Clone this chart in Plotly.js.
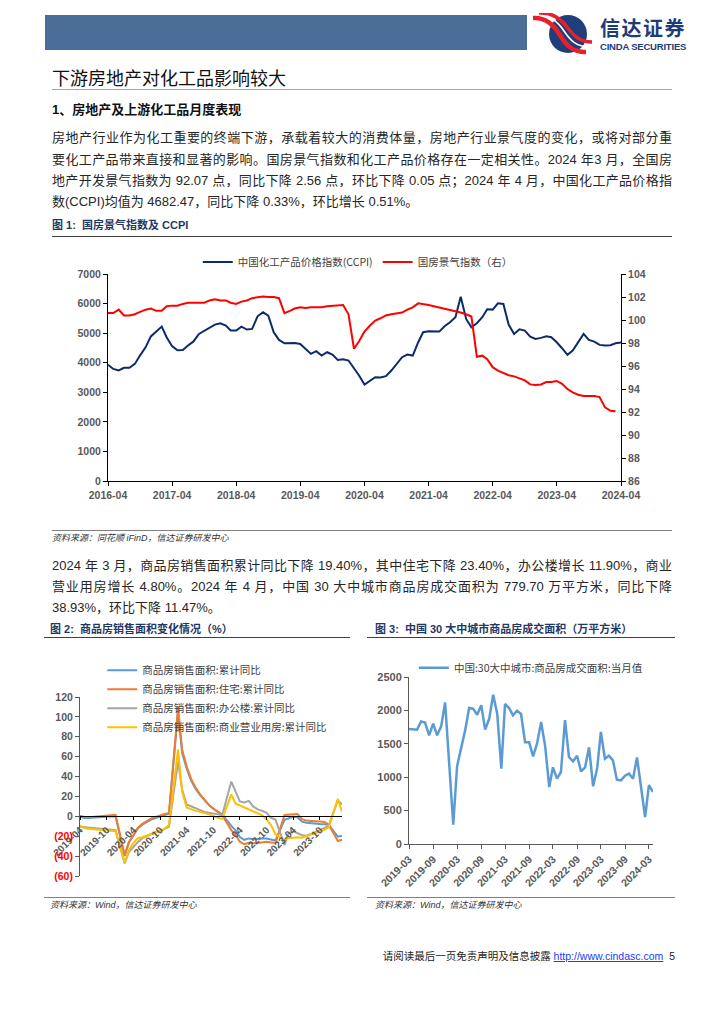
<!DOCTYPE html>
<html><head><meta charset="utf-8">
<script src="https://cdn.plot.ly/plotly-3.0.1.min.js"></script>
<style>
body{margin:0;background:#fff;}
#page{position:relative;width:724px;height:1024px;overflow:hidden;font-family:"Liberation Sans","Noto Sans CJK SC",sans-serif;color:#222;}
.abs{position:absolute;}
.ln{position:absolute;left:52px;width:620px;font-size:13px;line-height:20px;text-align:justify;text-align-last:justify;white-space:nowrap;color:#262626;}
.ln.last{text-align-last:left;}
.fig{position:absolute;font-size:11px;font-weight:bold;color:#1f3864;line-height:14px;}
.rule{position:absolute;height:0;border-top:1.5px solid #404040;}
.thin{position:absolute;height:0;border-top:1px solid #808080;}
.src{position:absolute;font-size:9px;font-style:italic;color:#333;line-height:12px;}
</style></head>
<body><div id="page">
<div class="abs" style="left:45px;top:15px;width:482px;height:35px;background:#4b6e98;"></div>
<svg class="abs" style="left:530px;top:13px" width="68" height="42" viewBox="0 0 68 42">
 <circle cx="38" cy="21" r="19" fill="#1f3f7a"/>
 <path d="M3,5 C16,4 24,12 30,22 S42,39 56,39" fill="none" stroke="#e8202a" stroke-width="4.5"/>
 <path d="M6,2 C20,1 28,9 34,18 S46,34 60,34" fill="none" stroke="#ffffff" stroke-width="1.6"/>
 <path d="M9,0 C23,-1 31,6 37,14 S49,29 62,29" fill="none" stroke="#e8202a" stroke-width="3.5"/>
</svg>
<div class="abs" style="left:600px;top:17px;font-size:20px;font-weight:bold;color:#1d3c78;letter-spacing:1.5px;font-family:'Noto Sans CJK SC';line-height:22px;">信达证券</div>
<div class="abs" style="left:600px;top:41px;font-size:9.5px;font-weight:bold;color:#1d3c78;letter-spacing:-0.2px;line-height:11px;">CINDA SECURITIES</div>

<div class="abs" style="left:52px;top:65px;font-size:18px;line-height:24px;color:#111;font-family:'Noto Sans CJK SC';">下游房地产对化工品影响较大</div>
<div class="abs" style="left:52px;top:89px;width:620px;height:0;border-top:1.5px solid #8eaacb;"></div>
<div class="abs" style="left:52px;top:101px;font-size:13px;font-weight:bold;line-height:18px;color:#111;">1、房地产及上游化工品月度表现</div>

<div class="ln" style="top:128px;">房地产行业作为化工重要的终端下游，承载着较大的消费体量，房地产行业景气度的变化，或将对部分重</div>
<div class="ln" style="top:150px;">要化工产品带来直接和显著的影响。国房景气指数和化工产品价格存在一定相关性。2024 年3 月，全国房</div>
<div class="ln" style="top:171px;">地产开发景气指数为 92.07 点，同比下降 2.56 点，环比下降 0.05 点；2024 年 4 月，中国化工产品价格指</div>
<div class="ln last" style="top:192px;">数(CCPI)均值为 4682.47，同比下降 0.33%，环比增长 0.51%。</div>

<div class="fig" style="left:52px;top:218px;">图 1:&nbsp; 国房景气指数及 CCPI</div>
<div class="rule" style="left:52px;top:236px;width:620px;"></div>
<div id="c1" class="abs" style="left:40px;top:245px;width:640px;height:270px;"></div>
<div class="thin" style="left:52px;top:530px;width:620px;"></div>
<div class="src" style="left:52px;top:532px;">资料来源：同花顺 iFinD，信达证券研发中心</div>

<div class="ln" style="top:556px;">2024 年 3 月，商品房销售面积累计同比下降 19.40%，其中住宅下降 23.40%，办公楼增长 11.90%，商业</div>
<div class="ln" style="top:577px;">营业用房增长 4.80%。2024 年 4 月，中国 30 大中城市商品房成交面积为 779.70 万平方米，同比下降</div>
<div class="ln last" style="top:598px;">38.93%，环比下降 11.47%。</div>

<div class="fig" style="left:50px;top:622px;">图 2:&nbsp; 商品房销售面积变化情况（%）</div>
<div class="rule" style="left:44px;top:637px;width:306px;"></div>
<div class="fig" style="left:375px;top:622px;">图 3:&nbsp; 中国 30 大中城市商品房成交面积（万平方米）</div>
<div class="rule" style="left:367px;top:637px;width:308px;"></div>
<div id="c2" class="abs" style="left:40px;top:640px;width:310px;height:255px;"></div>
<div id="c3" class="abs" style="left:365px;top:640px;width:315px;height:255px;"></div>
<div class="thin" style="left:44px;top:897px;width:306px;"></div>
<div class="thin" style="left:367px;top:897px;width:308px;"></div>
<div class="src" style="left:50px;top:899px;">资料来源：Wind，信达证券研发中心</div>
<div class="src" style="left:375px;top:899px;">资料来源：Wind，信达证券研发中心</div>

<div class="abs" style="left:340px;top:949px;width:335px;text-align:right;font-size:10.5px;line-height:14px;color:#222;white-space:nowrap;">请阅读最后一页免责声明及信息披露 <span style="color:#1a3cff;text-decoration:underline;">http://www.cindasc.com</span>&nbsp; 5</div>
</div>
<script>
// ---------- Figure 1 data ----------
const ccpiStart = [2016, 4];
const ccpiValues = [
 3930,3790,3740,3826,3830,3960,4250,4520,4890,5060,5222,4860,
 4560,4420,4430,4580,4720,4974,5087,5177,5289,5334,5255,5087,
 5087,5222,5120,5143,5570,5705,5593,5030,4771,4659,4659,4670,
 4636,4468,4299,4389,4243,4355,4276,4096,4119,4074,3826,3567,
 3264,3376,3511,3500,3545,3736,3939,4186,4276,4243,4693,5030,
 5064,5053,5053,5233,5368,5537,6234,5480,5199,5334,5537,5807,
 5796,6009,5987,5289,4974,5132,5087,4884,4805,4839,4895,4862,
 4693,4490,4265,4411,4693,4974,4771,4715,4603,4580,4591,4659,
 4682];
const guofangValues = [
 100.6,100.6,100.9,100.4,100.4,100.5,100.7,100.9,101.0,100.8,100.8,101.2,
 101.25,101.25,101.4,101.5,101.5,101.5,101.5,101.7,101.8,101.7,101.7,101.5,
 101.4,101.6,101.7,101.9,102.0,102.05,102.0,102.0,101.9,100.6,100.8,101.0,
 101.1,101.05,101.1,101.1,101.1,101.2,101.25,101.3,101.3,100.5,97.5,98.15,
 99.0,99.5,99.95,100.15,100.4,100.5,100.6,100.65,100.9,101.1,101.45,101.35,
 101.3,101.2,101.1,101.0,100.9,100.75,100.65,100.5,100.3,96.8,96.9,96.6,
 95.9,95.6,95.4,95.2,95.1,94.9,94.75,94.4,94.35,94.4,94.6,94.6,
 94.7,94.45,94.0,93.7,93.5,93.4,93.4,93.4,93.3,92.4,92.1,92.07];
const fig1TickVals = ['2016-04-01','2017-04-01','2018-04-01','2019-04-01','2020-04-01','2021-04-01','2022-04-01','2023-04-01','2024-04-01'];
const fig1TickText = ['2016-04','2017-04','2018-04','2019-04','2020-04','2021-04','2022-04','2023-04','2024-04'];
const fig1Names = ['中国化工产品价格指数(CCPI)','国房景气指数（右）'];

// ---------- Figure 2 data (Jan-Feb combined; January omitted) ----------
const fig2Start = [2019, 4];
const salesTotal = [
 -0.3,-1.6,-1.8,-1.3,-0.6,-0.1,0.1,0.2,-0.1,
 -39.9,-26.3,-19.3,-12.3,-8.4,-5.8,-3.3,-1.8,0.0,1.3,2.6,
 104.9,63.8,48.1,36.3,27.7,21.5,15.9,11.3,7.9,4.8,1.9,
 -9.6,-13.8,-20.9,-23.6,-22.2,-23.1,-23.0,-22.2,-22.3,-23.3,-24.3,
 -3.6,-1.8,-0.4,-0.9,-5.3,-6.5,-7.1,-7.5,-7.8,-8.0,-8.5,
 -20.5,-19.4];
const salesResidential = [
 0.7,-0.7,-1.0,-0.6,0.1,0.7,1.1,1.2,1.5,
 -39.2,-25.9,-19.3,-11.7,-7.6,-4.7,-2.1,-0.6,1.2,2.4,3.2,
 109.8,67.1,50.3,37.9,28.9,22.4,16.3,11.4,7.6,4.4,1.1,
 -13.8,-18.3,-25.5,-28.1,-26.6,-27.1,-26.8,-25.8,-25.6,-26.2,-26.8,
 1.4,1.6,2.5,2.3,-2.8,-4.3,-4.6,-4.6,-5.2,-5.7,-8.2,
 -24.8,-23.4];
const salesOffice = [
 -10.6,-11.0,-11.4,-11.8,-12.0,-12.4,-12.8,-13.2,-14.0,
 -47.3,-36.0,-31.0,-26.0,-22.0,-20.0,-18.0,-16.0,-15.0,-13.0,-10.4,
 55,27,12,10,8,6,4.5,3.5,2.5,2.0,1.2,
 35,25,15,14,15.5,10,7,5.5,3.5,-1.5,-3.3,
 -29,-17,-15,-17,-19,-19.5,-18,-16,-14,-12,-9.6,
 16,11.9];
const salesCommercial = [
 -9,-12,-12.5,-13,-13.5,-13.5,-14,-14.5,-15.0,
 -46.5,-34,-27,-22,-21,-19.5,-18,-16.5,-14.5,-12.5,-8.7,
 67,25,9,7,5.5,4.5,3.5,2,0.5,-1.5,-2.6,
 22,13,11,9,7.5,5.5,3.5,1,-3,-9,-18,
 -24,-22,-21.5,-21,-21.5,-20,-18,-16.5,-15,-13.5,-11,
 17.5,4.8];
const fig2Names = ['商品房销售面积:累计同比','商品房销售面积:住宅:累计同比','商品房销售面积:办公楼:累计同比','商品房销售面积:商业营业用房:累计同比'];
const fig2TickVals = ['2019-04-01','2019-10-01','2020-04-01','2020-10-01','2021-04-01','2021-10-01','2022-04-01','2022-10-01','2023-04-01','2023-10-01'];
const fig2TickText = ['2019-04','2019-10','2020-04','2020-10','2021-04','2021-10','2022-04','2022-10','2023-04','2023-10'];
const fig2YVals = [-60,-40,-20,0,20,40,60,80,100,120];
const fig2YText = ['(60)','(40)','(20)','0','20','40','60','80','100','120'];

// ---------- Figure 3 data ----------
const fig3Start = [2019, 3];
const city30Area = [
 1721,1716,1711,1836,1820,1627,1801,1627,1761,2120,
 1200,290,1163,1437,1697,2036,2026,1936,2076,1712,1876,2236,
 1946,1128,2096,2036,1926,1996,1946,1522,1522,1312,1512,1826,
 1462,853,1148,978,1078,1856,1302,1237,1322,1088,1148,1447,
 863,1138,1677,1277,1322,1252,963,953,1023,1053,978,1297,
 888,404,881,780];
const fig3Name = '中国:30大中城市:商品房成交面积:当月值';
const fig3TickVals = ['2019-03-01','2019-09-01','2020-03-01','2020-09-01','2021-03-01','2021-09-01','2022-03-01','2022-09-01','2023-03-01','2023-09-01','2024-03-01'];
const fig3TickText = ['2019-03','2019-09','2020-03','2020-09','2021-03','2021-09','2022-03','2022-09','2023-03','2023-09','2024-03'];

// ---------- helpers ----------
function months(start, n, skipJan){
  const out=[]; let y=start[0], m=start[1];
  while(out.length<n){
    if(!(skipJan && m===1)) out.push(y+'-'+String(m).padStart(2,'0')+'-01');
    m++; if(m>12){m=1;y++;}
  }
  return out;
}
const tickFont = {family:'Liberation Sans, Arial', size:10.5, color:'#595959', weight:'bold'};
const legFont = {family:'Noto Sans CJK SC', size:10.5, color:'#404040'};
const cfg = {displayModeBar:false, staticPlot:true};

// Figure 1
const d1 = months(ccpiStart, ccpiValues.length, false);
Plotly.newPlot('c1', [
  {x:d1, y:ccpiValues, type:'scatter', mode:'lines', name:fig1Names[0], line:{color:'#0d2a6b', width:2}},
  {x:d1.slice(0,guofangValues.length), y:guofangValues, type:'scatter', mode:'lines', name:fig1Names[1], yaxis:'y2', line:{color:'#ff0000', width:2}}
], {
  width:640, height:270, margin:{l:68, r:59, t:29, b:34, autoexpand:false},
  paper_bgcolor:'rgba(0,0,0,0)', plot_bgcolor:'rgba(0,0,0,0)',
  showlegend:true,
  legend:{orientation:'h', x:0.175, xanchor:'left', y:1.058, yanchor:'middle', font:legFont, bgcolor:'rgba(0,0,0,0)', itemwidth:30},
  xaxis:{type:'date', range:['2016-04-01','2024-04-01'], tickmode:'array', tickvals:fig1TickVals, ticktext:fig1TickText,
    showline:true, linecolor:'#000', linewidth:1, ticks:'outside', ticklen:4, tickcolor:'#000', showgrid:false, zeroline:false, tickfont:tickFont},
  yaxis:{range:[0,7000], dtick:1000, tick0:0, showline:true, linecolor:'#000', ticks:'outside', ticklen:4, tickcolor:'#000', showgrid:false, zeroline:false, tickfont:tickFont},
  yaxis2:{range:[86,104], dtick:2, tick0:86, overlaying:'y', side:'right', showline:true, linecolor:'#000', ticks:'outside', ticklen:4, tickcolor:'#000', showgrid:false, zeroline:false, tickfont:tickFont}
}, cfg);

// Figure 2
const d2 = months(fig2Start, salesTotal.length, true);
const colors2 = ['#5b9bd5','#ed7d31','#a5a5a5','#ffc000'];
const series2 = [salesTotal, salesResidential, salesOffice, salesCommercial];
const yText2 = fig2YText.map((t,i)=> fig2YVals[i]<0 ? '<span style="color:#ff0000">'+t+'</span>' : t);
Plotly.newPlot('c2', series2.map((s,i)=>({x:d2, y:s, type:'scatter', mode:'lines', name:fig2Names[i], line:{color:colors2[i], width:2}})), {
  width:310, height:255, margin:{l:40, r:8, t:57, b:19, autoexpand:false},
  paper_bgcolor:'rgba(0,0,0,0)', plot_bgcolor:'rgba(0,0,0,0)',
  showlegend:true,
  legend:{orientation:'v', x:0.085, xanchor:'left', y:1.23, yanchor:'top', font:legFont, bgcolor:'rgba(0,0,0,0)', tracegroupgap:0, itemwidth:30},
  xaxis:{type:'date', range:['2019-04-01','2024-03-01'], tickmode:'array', tickvals:fig2TickVals, ticktext:fig2TickText, tickangle:-45,
    anchor:'free', position:1/3, showline:true, linecolor:'#000', linewidth:1, ticks:'outside', ticklen:3, tickcolor:'#000', showgrid:false, zeroline:false,
    tickfont:{family:'Liberation Sans, Arial', size:10, color:'#595959', weight:'bold'}},
  yaxis:{range:[-60,120], tickmode:'array', tickvals:fig2YVals, ticktext:yText2, showline:true, linecolor:'#595959', ticks:'outside', ticklen:4, tickcolor:'#595959', showgrid:false, zeroline:false, tickfont:tickFont}
}, cfg);

// Figure 3
const d3 = months(fig3Start, city30Area.length, false);
Plotly.newPlot('c3', [{x:d3, y:city30Area, type:'scatter', mode:'lines', name:fig3Name, line:{color:'#5b9bd5', width:2.5}}], {
  width:315, height:255, margin:{l:44, r:27, t:37, b:51, autoexpand:false},
  paper_bgcolor:'rgba(0,0,0,0)', plot_bgcolor:'rgba(0,0,0,0)',
  showlegend:true,
  legend:{orientation:'h', x:0.02, xanchor:'left', y:1.055, yanchor:'middle', font:legFont, bgcolor:'rgba(0,0,0,0)', itemwidth:30},
  xaxis:{type:'date', range:['2019-03-01','2024-04-01'], tickmode:'array', tickvals:fig3TickVals, ticktext:fig3TickText, tickangle:-45,
    showline:true, linecolor:'#595959', ticks:'outside', ticklen:4, tickcolor:'#595959', showgrid:false, zeroline:false,
    tickfont:{family:'Liberation Sans, Arial', size:10.5, color:'#595959', weight:'bold'}},
  yaxis:{range:[0,2500], dtick:500, tick0:0, showline:true, linecolor:'#595959', ticks:'outside', ticklen:4, tickcolor:'#595959', showgrid:false, zeroline:false,
    tickfont:{family:'Liberation Sans, Arial', size:11, color:'#595959', weight:'bold'}}
}, cfg);
</script>
</body></html>
